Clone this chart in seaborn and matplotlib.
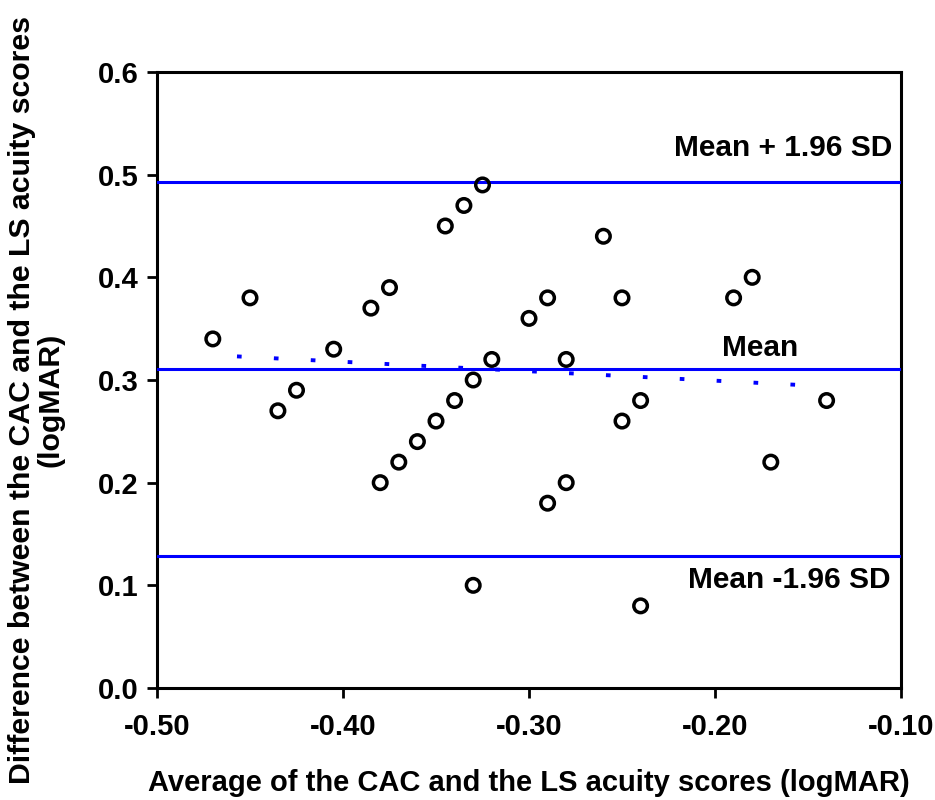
import matplotlib
matplotlib.use("Agg")
import matplotlib.pyplot as plt
import seaborn as sns
import pandas as pd

avg = [-0.47, -0.45, -0.435, -0.425, -0.405, -0.385, -0.375, -0.38, -0.37, -0.36,
       -0.35, -0.34, -0.33, -0.32, -0.345, -0.335, -0.325, -0.33, -0.30, -0.29,
       -0.29, -0.28, -0.28, -0.26, -0.25, -0.25, -0.24, -0.24, -0.19, -0.18,
       -0.17, -0.14]
diff = [0.34, 0.38, 0.27, 0.29, 0.33, 0.37, 0.39, 0.20, 0.22, 0.24,
        0.26, 0.28, 0.30, 0.32, 0.45, 0.47, 0.49, 0.10, 0.36, 0.38,
        0.18, 0.20, 0.32, 0.44, 0.38, 0.26, 0.28, 0.08, 0.38, 0.40,
        0.22, 0.28]
mean_diff = 0.311
upper_loa = 0.493
lower_loa = 0.129
reg_x = [-0.457, -0.142]
reg_y = [0.323, 0.294]
x_ticks = [-0.50, -0.40, -0.30, -0.20, -0.10]
x_ticklabels = ["-0.50", "-0.40", "-0.30", "-0.20", "-0.10"]
y_ticks = [0.0, 0.1, 0.2, 0.3, 0.4, 0.5, 0.6]
y_ticklabels = ["0.0", "0.1", "0.2", "0.3", "0.4", "0.5", "0.6"]

sns.set_style("white")
plt.rcParams['font.family'] = ['Liberation Sans', 'DejaVu Sans']
plt.rcParams['text.color'] = 'black'
plt.rcParams['axes.labelcolor'] = 'black'
plt.rcParams['xtick.color'] = 'black'
plt.rcParams['ytick.color'] = 'black'

fig = plt.figure(figsize=(9.35, 8.0), dpi=100)
ax = fig.add_axes([157/935, 1 - 688/800, (901-157)/935, (688-72)/800])

df = pd.DataFrame({"avg": avg, "diff": diff})
sns.scatterplot(data=df, x="avg", y="diff", ax=ax, marker="o", s=95,
                facecolor="none", edgecolor="black", linewidth=2.5, zorder=4)

for yv in (mean_diff, upper_loa, lower_loa):
    ax.axhline(yv, color="#0000ff", lw=2.2, zorder=3)

sns.lineplot(x=reg_x, y=reg_y, ax=ax, color="#0000ff", lw=2.8,
             linestyle=(0, (1.2, 8.3)), zorder=3)

ax.set_xlim(-0.50, -0.10)
ax.set_ylim(0.0, 0.6)
ax.set_xticks(x_ticks)
ax.set_xticklabels(x_ticklabels)
ax.set_yticks(y_ticks)
ax.set_yticklabels(y_ticklabels)
for lab in ax.get_xticklabels() + ax.get_yticklabels():
    lab.set_fontweight("bold")
    lab.set_fontsize(21)
    lab.set_color("black")
ax.tick_params(axis="both", direction="out", length=7, width=2, color="black",
               left=True, bottom=True, pad=6)
ax.tick_params(axis="x", pad=11)
for sp in ax.spines.values():
    sp.set_visible(True)
    sp.set_color("black")
    sp.set_linewidth(2.2)

ax.set_xlabel("Average of the CAC and the LS acuity scores (logMAR)",
              fontsize=21, fontweight="bold", labelpad=20, color="black")
ax.set_ylabel("")
fig.text(36/935, 0.5,
         "Difference between the CAC and the LS acuity scores\n(logMAR)",
         rotation=90, ha="center", va="center", multialignment="center",
         fontsize=21.8, fontweight="bold", color="black", linespacing=1.0)

ax.text(-0.1045, 0.526, "Mean + 1.96 SD", ha="right", va="center",
        fontsize=21.5, fontweight="bold", color="black")
ax.text(-0.176, 0.331, "Mean", ha="center", va="center",
        fontsize=21.5, fontweight="bold", color="black")
ax.text(-0.1055, 0.105, "Mean -1.96 SD", ha="right", va="center",
        fontsize=21.5, fontweight="bold", color="black")

fig.savefig("out.png", dpi=100)
